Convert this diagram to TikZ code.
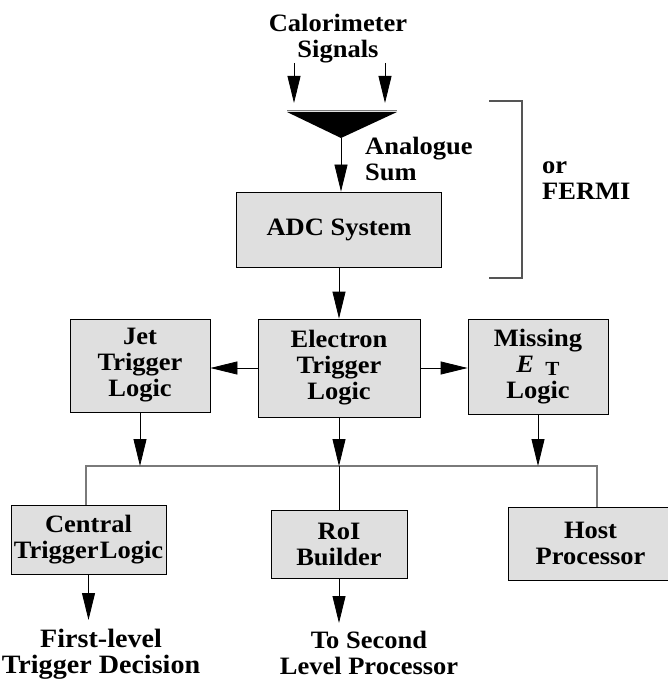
\documentclass[tikz,border=0pt]{standalone}
\usepackage{fontspec}
\setmainfont{Liberation Serif}[FakeStretch=1.06]
\usetikzlibrary{arrows.meta}
\definecolor{boxgray}{HTML}{DFDFDF}
\definecolor{busgray}{HTML}{7A7A7A}
\definecolor{brgray}{HTML}{555555}
\tikzset{
  lbl/.style={font=\fontsize{25}{26}\selectfont\bfseries, inner sep=0pt, align=center},
  blk/.style={lbl, draw=black, line width=0.8pt, fill=boxgray, minimum width=#1},
  arr/.style={-{Triangle[length=27pt,width=13pt]}, line width=0.8pt},
  bus/.style={draw=busgray, line width=1.4pt},
}
\begin{document}
\begin{tikzpicture}[x=1pt,y=-1pt]
\useasboundingbox (0,0) rectangle (668,679);
% top labels
\node[lbl, anchor=base] (cal) at (338,58) {Calorimeter\\Signals};
\node[lbl, anchor=base west, align=left] (ana) at (365,180) {Analogue\\Sum};
\node[lbl, anchor=base west, align=left] (fermi) at (542,199) {or\\FERMI};
% input arrows
\coordinate (in1) at (294,63); \coordinate (in1e) at (294,103);
\coordinate (in2) at (385,63); \coordinate (in2e) at (385,103);
\draw[arr] (in1) -- (in1e);
\draw[arr] (in2) -- (in2e);
% analogue sum triangle
\coordinate (sumL) at (287,112); \coordinate (sumR) at (397,112); \coordinate (apex) at (341,138);
\fill[black] (sumL) -- (sumR) -- (apex) -- cycle;
\draw[busgray, line width=1pt] (287,110.5) -- (397,110.5);
% bracket
\draw[brgray, line width=1.2pt] (489,101) -- (522,101) -- (522,278) -- (489,278);
% boxes
\node[blk=205pt, minimum height=75pt] (adc) at (339,229.5) {ADC System};
\node[blk=140pt, minimum height=93pt] (jet) at (140,365.5) {Jet\\Trigger\\Logic};
\node[blk=162pt, minimum height=98pt] (elec) at (339,368) {Electron\\Trigger\\Logic};
\node[blk=140pt, minimum height=95pt] (miss) at (538,366.5) {Missing\\{\itshape E}\hspace{0.45em}\raisebox{-0.3ex}{\fontsize{20}{20}\selectfont T}\\Logic};
\node[blk=155pt, minimum height=69pt] (cent) at (88.5,539.5) {Central\\Trigger\hspace{0.05em}Logic};
\node[blk=136pt, minimum height=68pt] (roi) at (339,544) {RoI\\Builder};
\node[blk=165pt, minimum height=73pt] (host) at (590.5,543.5) {Host\\Processor};
% bottom labels
\node[lbl, anchor=base, font=\fontsize{26.5}{26}\selectfont\bfseries] (fld) at (101,673) {First-level\\Trigger Decision};
\node[lbl, anchor=base] (slp) at (369,674) {To Second\\Level Processor};
\coordinate (fldtop) at (88,620);
\coordinate (slptop) at (339,623);
% connectors
\draw[arr] (apex) -- (apex |- adc.north);
\draw[arr] (adc.south -| elec.north) -- (elec.north);
\draw[arr] (elec.west) -- (elec.west -| jet.east);
\draw[arr] (elec.east) -- (elec.east -| miss.west);
\coordinate (busL) at (86,466);
\coordinate (busR) at (597,466);
\draw[bus] (cent.north -| busL) |- (busR) -- (host.north -| busR);
\draw[line width=0.8pt] (roi.north |- busL) -- (roi.north);
\draw[arr] (jet.south) -- (jet.south |- busL);
\draw[arr] (elec.south) -- (elec.south |- busL);
\draw[arr] (miss.south) -- (miss.south |- busL);
\draw[arr] (cent.south) -- (cent.south |- fldtop);
\draw[arr] (roi.south) -- (roi.south |- slptop);
\end{tikzpicture}
\end{document}
